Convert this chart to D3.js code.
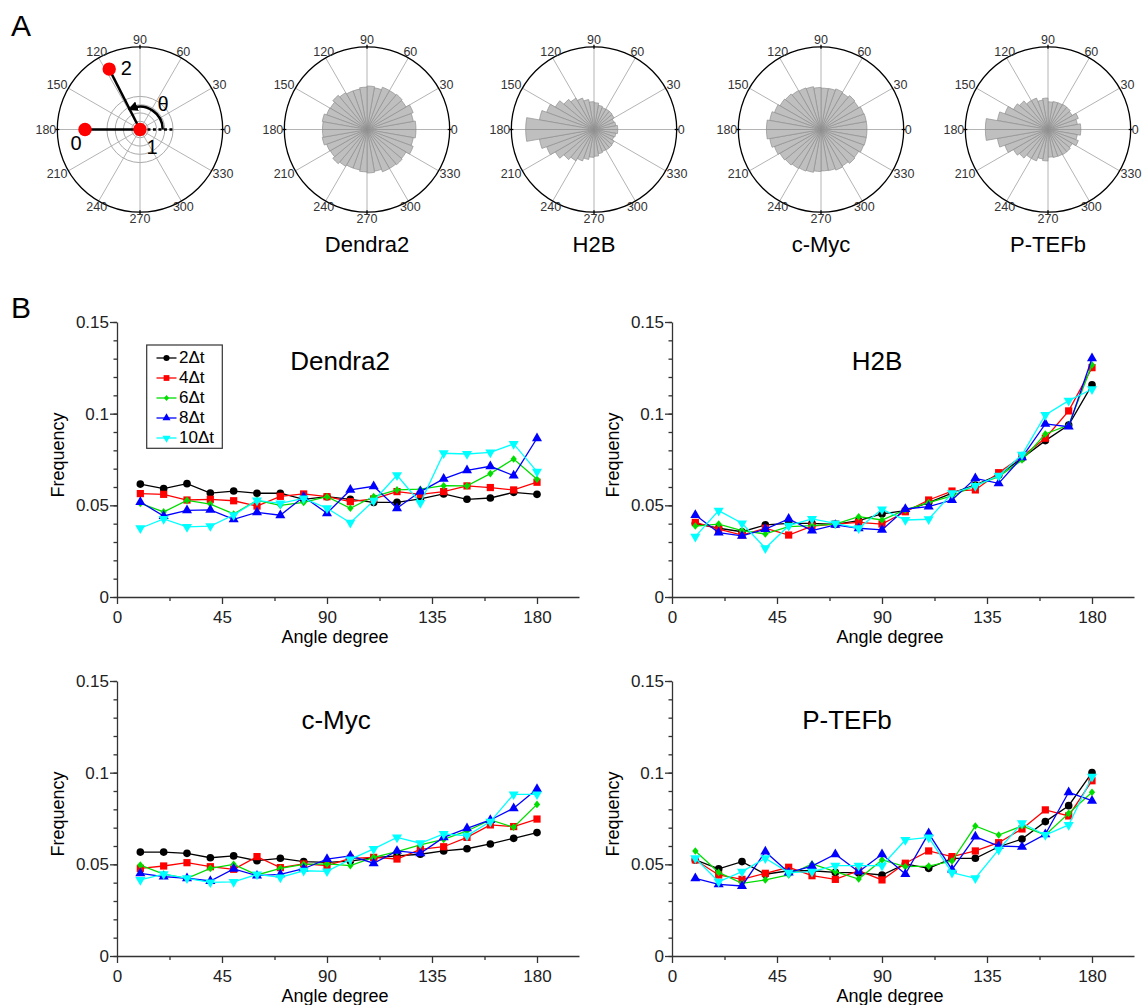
<!DOCTYPE html>
<html>
<head>
<meta charset="utf-8">
<script src="https://cdn.jsdelivr.net/npm/d3@7"></script>
<style>
  body { margin: 0; background: #fff; }
  text { font-family: "Liberation Sans", Arial, sans-serif; }
</style>
</head>
<body>
<div id="chart"></div>
<script>
// ---- data ----
const angles = [10, 20, 30, 40, 50, 60, 70, 80, 90, 100, 110, 120, 130, 140, 150, 160, 170, 180];
const seriesNames = ["2\u0394t", "4\u0394t", "6\u0394t", "8\u0394t", "10\u0394t"];
const proteins = ["Dendra2", "H2B", "c-Myc", "P-TEFb"];

const dendra2 = [
  [0.0616, 0.0591, 0.0618, 0.0567, 0.0578, 0.0566, 0.0566, 0.0533, 0.0547, 0.0533, 0.0516, 0.0516, 0.0535, 0.0562, 0.0533, 0.0540, 0.0571, 0.0560],
  [0.0564, 0.0560, 0.0529, 0.0533, 0.0525, 0.0496, 0.0549, 0.0562, 0.0547, 0.0520, 0.0535, 0.0575, 0.0560, 0.0575, 0.0606, 0.0597, 0.0584, 0.0626],
  [0.0511, 0.0464, 0.0527, 0.0507, 0.0453, 0.0527, 0.0500, 0.0516, 0.0547, 0.0484, 0.0548, 0.0584, 0.0588, 0.0607, 0.0606, 0.0673, 0.0753, 0.0642],
  [0.0518, 0.0442, 0.0473, 0.0475, 0.0424, 0.0462, 0.0446, 0.0547, 0.0457, 0.0584, 0.0604, 0.0484, 0.0575, 0.0644, 0.0691, 0.0713, 0.0662, 0.0866],
  [0.0375, 0.0426, 0.0382, 0.0387, 0.0447, 0.0527, 0.0511, 0.0538, 0.0484, 0.0405, 0.0525, 0.0664, 0.0513, 0.0784, 0.0780, 0.0789, 0.0835, 0.0684]
];
const h2b = [
  [0.0402, 0.0375, 0.0356, 0.0393, 0.0402, 0.0402, 0.0396, 0.0416, 0.0453, 0.0471, 0.0515, 0.0566, 0.0611, 0.0666, 0.0757, 0.0853, 0.0938, 0.1157],
  [0.0407, 0.0370, 0.0338, 0.0375, 0.0338, 0.0387, 0.0398, 0.0407, 0.0398, 0.0465, 0.0529, 0.0578, 0.0584, 0.0678, 0.0766, 0.0866, 0.1015, 0.1251],
  [0.0387, 0.0398, 0.0362, 0.0344, 0.0384, 0.0389, 0.0398, 0.0438, 0.0420, 0.0475, 0.0515, 0.0551, 0.0609, 0.0656, 0.0747, 0.0889, 0.0938, 0.1266],
  [0.0447, 0.0351, 0.0333, 0.0370, 0.0426, 0.0362, 0.0393, 0.0375, 0.0366, 0.0480, 0.0493, 0.0529, 0.0647, 0.0620, 0.0762, 0.0944, 0.0929, 0.1302],
  [0.0329, 0.0471, 0.0402, 0.0266, 0.0389, 0.0426, 0.0402, 0.0375, 0.0478, 0.0420, 0.0424, 0.0566, 0.0606, 0.0662, 0.0776, 0.0993, 0.1071, 0.1133]
];
const cmyc = [
  [0.0567, 0.0567, 0.0560, 0.0536, 0.0546, 0.0520, 0.0533, 0.0515, 0.0511, 0.0518, 0.0536, 0.0546, 0.0555, 0.0573, 0.0585, 0.0611, 0.0642, 0.0673],
  [0.0478, 0.0491, 0.0509, 0.0487, 0.0473, 0.0542, 0.0482, 0.0502, 0.0493, 0.0533, 0.0538, 0.0529, 0.0582, 0.0596, 0.0647, 0.0715, 0.0706, 0.0747],
  [0.0496, 0.0447, 0.0424, 0.0478, 0.0500, 0.0442, 0.0478, 0.0500, 0.0502, 0.0493, 0.0538, 0.0569, 0.0606, 0.0636, 0.0682, 0.0742, 0.0702, 0.0827],
  [0.0451, 0.0433, 0.0424, 0.0409, 0.0475, 0.0438, 0.0445, 0.0476, 0.0529, 0.0546, 0.0506, 0.0573, 0.0560, 0.0647, 0.0696, 0.0742, 0.0806, 0.0911],
  [0.0415, 0.0447, 0.0424, 0.0402, 0.0404, 0.0445, 0.0429, 0.0465, 0.0462, 0.0527, 0.0584, 0.0647, 0.0615, 0.0666, 0.0656, 0.0733, 0.0882, 0.0882]
];
const ptefb = [
  [0.0524, 0.0475, 0.0515, 0.0446, 0.0465, 0.0465, 0.0456, 0.0453, 0.0442, 0.0502, 0.0478, 0.0533, 0.0533, 0.0596, 0.0638, 0.0733, 0.0820, 0.1000],
  [0.0524, 0.0442, 0.0418, 0.0451, 0.0484, 0.0438, 0.0418, 0.0465, 0.0415, 0.0506, 0.0573, 0.0542, 0.0573, 0.0618, 0.0693, 0.0797, 0.0764, 0.0956],
  [0.0573, 0.0456, 0.0396, 0.0415, 0.0442, 0.0502, 0.0460, 0.0420, 0.0524, 0.0487, 0.0490, 0.0518, 0.0709, 0.0660, 0.0709, 0.0660, 0.0778, 0.0893],
  [0.0424, 0.0391, 0.0382, 0.0569, 0.0455, 0.0490, 0.0555, 0.0460, 0.0555, 0.0447, 0.0669, 0.0471, 0.0651, 0.0600, 0.0596, 0.0664, 0.0893, 0.0847],
  [0.0533, 0.0405, 0.0460, 0.0533, 0.0455, 0.0460, 0.0493, 0.0493, 0.0493, 0.0633, 0.0647, 0.0455, 0.0424, 0.0580, 0.0724, 0.0660, 0.0715, 0.0978]
];
const proteinData = [dendra2, h2b, cmyc, ptefb];

// radial maximum of each rose plot (panel A)
const roseMax = [0.104, 0.14, 0.102, 0.132];
const polarTicks = [0, 30, 60, 90, 120, 150, 180, 210, 240, 270, 300, 330];
const yTicks = [0, 0.05, 0.1, 0.15];
const xTicks = [0, 45, 90, 135, 180];

// schematic in the first polar plot: step positions (angle deg, radius as fraction)
const schemePoints = [
  { label: "0", angle: 180, r: 0.665 },
  { label: "1", angle: 0, r: 0 },
  { label: "2", angle: 117, r: 0.82 }
];

// ---- layout ----
const W = 1143, H = 1005;
const svg = d3.select("#chart").append("svg")
  .attr("width", W).attr("height", H)
  .style("background", "#fff");

const colors = ["#000000", "#ff0000", "#00dd00", "#0000ff", "#00ffff"];
const diamond = {
  draw(ctx, size) {
    const h = Math.sqrt(size) / 2;
    ctx.moveTo(0, -h * 1.15); ctx.lineTo(h * 0.95, 0);
    ctx.lineTo(0, h * 1.15); ctx.lineTo(-h * 0.95, 0); ctx.closePath();
  }
};
const markers = [
  { type: d3.symbolCircle, size: 46, rot: 0 },
  { type: d3.symbolSquare, size: 52, rot: 0 },
  { type: diamond, size: 44, rot: 0 },
  { type: d3.symbolTriangle, size: 44, rot: 0 },
  { type: d3.symbolTriangle, size: 44, rot: 180 }
];

// panel labels
svg.append("text").attr("x", 11).attr("y", 36).attr("font-size", 30).text("A");
svg.append("text").attr("x", 11).attr("y", 318).attr("font-size", 30).text("B");

// ---- panel A: polar plots ----
const R = 82.7;
const polarCx = [140, 367, 594, 821, 1048];
const polarCy = 129.5;

function drawPolar(cx, cy, values, rmax) {
  const g = svg.append("g").attr("transform", `translate(${cx},${cy})`);
  const rad = d3.scaleLinear().domain([0, rmax]).range([0, R]);

  if (values === null) {
    // inner reference rings of the schematic
    g.selectAll(".ring").data([0.1, 0.2, 0.3, 0.4]).enter().append("circle")
      .attr("r", d => d * R).attr("fill", "none")
      .attr("stroke", "#aaa").attr("stroke-width", 1);
  }

  // spokes
  g.selectAll(".spoke").data(polarTicks).enter().append("line")
    .attr("x1", 0).attr("y1", 0)
    .attr("x2", d => R * Math.cos(d * Math.PI / 180))
    .attr("y2", d => -R * Math.sin(d * Math.PI / 180))
    .attr("stroke", "#b4b4b4").attr("stroke-width", 1);

  if (values !== null) {
    // mirrored rose: bin [a-10, a] also drawn at [360-a, 370-a]
    const bins = [];
    angles.forEach((a, i) => {
      bins.push({ lo: a - 10, hi: a, v: values[i] });
      bins.push({ lo: 360 - a, hi: 370 - a, v: values[i] });
    });
    const arc = d3.arc().innerRadius(0);
    g.selectAll(".bin").data(bins).enter().append("path")
      .attr("d", d => arc({
        outerRadius: rad(d.v),
        startAngle: Math.PI / 2 - d.hi * Math.PI / 180,
        endAngle: Math.PI / 2 - d.lo * Math.PI / 180
      }))
      .attr("fill", "#bfbfbf").attr("stroke", "#8f8f8f").attr("stroke-width", 0.7);
  }

  // outer circle and small ticks
  g.append("circle").attr("r", R).attr("fill", "none")
    .attr("stroke", "#000").attr("stroke-width", 1.3);
  g.selectAll(".ptick").data([0, 90, 180, 270]).enter().append("line")
    .attr("x1", d => (R - 2) * Math.cos(d * Math.PI / 180))
    .attr("y1", d => -(R - 2) * Math.sin(d * Math.PI / 180))
    .attr("x2", d => (R + 2) * Math.cos(d * Math.PI / 180))
    .attr("y2", d => -(R + 2) * Math.sin(d * Math.PI / 180))
    .attr("stroke", "#000").attr("stroke-width", 1.3);

  // angle labels
  g.selectAll(".plabel").data(polarTicks).enter().append("text")
    .attr("x", d => {
      const c = Math.cos(d * Math.PI / 180);
      return (Math.abs(c) < 0.6 ? R + 4 : R + 1) * c;
    })
    .attr("y", d => -(R + 7) * Math.sin(d * Math.PI / 180))
    .attr("text-anchor", d => {
      const c = Math.cos(d * Math.PI / 180);
      return Math.abs(c) < 0.6 ? "middle" : (c > 0 ? "start" : "end");
    })
    .attr("dominant-baseline", "central")
    .attr("font-size", 12.5).attr("fill", "#333")
    .text(d => d);
  return { g, rad };
}

// schematic polar
const scheme = drawPolar(polarCx[0], polarCy, null, 1);
{
  const g = scheme.g;
  const pos = p => [p.r * R * Math.cos(p.angle * Math.PI / 180), -p.r * R * Math.sin(p.angle * Math.PI / 180)];
  const [p0, p1, p2] = schemePoints.map(pos);

  svg.append("defs").append("marker")
    .attr("id", "arrow").attr("viewBox", "0 0 10 10")
    .attr("refX", 6).attr("refY", 5)
    .attr("markerWidth", 4).attr("markerHeight", 4)
    .attr("orient", "auto")
    .append("path").attr("d", "M0,0 L10,5 L0,10 Z").attr("fill", "#000");

  // dotted reference direction
  g.append("line")
    .attr("x1", 0.09 * R).attr("y1", 0).attr("x2", 0.42 * R).attr("y2", 0)
    .attr("stroke", "#000").attr("stroke-width", 2.5).attr("stroke-dasharray", "3,2.5");

  // steps
  g.append("line").attr("x1", p0[0]).attr("y1", p0[1]).attr("x2", p1[0]).attr("y2", p1[1])
    .attr("stroke", "#000").attr("stroke-width", 2.5);
  g.append("line").attr("x1", p1[0]).attr("y1", p1[1]).attr("x2", p2[0]).attr("y2", p2[1])
    .attr("stroke", "#000").attr("stroke-width", 2.5);

  // theta arc
  const ar = 0.275 * R;
  const arcEnd = 112 * Math.PI / 180;
  g.append("path")
    .attr("d", `M${ar},0 A${ar},${ar} 0 0 0 ${ar * Math.cos(arcEnd)},${-ar * Math.sin(arcEnd)}`)
    .attr("fill", "none").attr("stroke", "#000").attr("stroke-width", 2.5)
    .attr("marker-end", "url(#arrow)");

  g.selectAll(".step").data([p0, p1, p2]).enter().append("circle")
    .attr("cx", d => d[0]).attr("cy", d => d[1]).attr("r", 6.7).attr("fill", "#ff0000");

  const serif = "'Liberation Serif', 'DejaVu Serif', serif";
  g.append("text").attr("x", p0[0] - 9).attr("y", p0[1] + 20).attr("font-size", 20)
    .attr("font-family", serif).attr("text-anchor", "middle").text(schemePoints[0].label);
  g.append("text").attr("x", p1[0] + 12).attr("y", p1[1] + 24).attr("font-size", 20)
    .attr("font-family", serif).attr("text-anchor", "middle").text(schemePoints[1].label);
  g.append("text").attr("x", p2[0] + 17).attr("y", p2[1] + 6).attr("font-size", 20)
    .attr("font-family", serif).attr("text-anchor", "middle").text(schemePoints[2].label);
  g.append("text").attr("x", 23).attr("y", -19).attr("font-size", 20)
    .attr("font-family", serif).attr("text-anchor", "middle").text("\u03b8");
}

// rose plots, drawn from the 2Δt series
proteins.forEach((name, k) => {
  drawPolar(polarCx[k + 1], polarCy, proteinData[k][0], roseMax[k]);
  svg.append("text")
    .attr("x", polarCx[k + 1]).attr("y", 252)
    .attr("text-anchor", "middle").attr("font-size", 22)
    .text(name);
});

// ---- panel B: line charts ----
const panelX = [117, 672, 117, 672];
const panelY = [597, 597, 956, 956];
const titlePos = [95.6, 87.9, 93.9, 75];   // title centre, in degrees
const plotW = 462, plotH = 275;

proteins.forEach((name, k) => {
  const x0 = panelX[k], y0 = panelY[k];
  const x = d3.scaleLinear().domain([0, 198]).range([x0, x0 + plotW]);
  const y = d3.scaleLinear().domain([0, 0.15]).range([y0, y0 - plotH]);
  const g = svg.append("g");

  // minor ticks
  g.append("g").attr("transform", `translate(${x0},0)`)
    .call(d3.axisLeft(y).tickValues(d3.range(0, 0.1501, 0.01)).tickSize(3.5).tickFormat("").tickSizeOuter(0))
    .call(a => a.select(".domain").remove());
  g.append("g").attr("transform", `translate(0,${y0})`)
    .call(d3.axisBottom(x).tickValues([22.5, 67.5, 112.5, 157.5]).tickSize(4).tickFormat("").tickSizeOuter(0))
    .call(a => a.select(".domain").remove());

  // major axes
  const yAxis = g.append("g").attr("transform", `translate(${x0},0)`)
    .call(d3.axisLeft(y).tickValues(yTicks).tickSize(7).tickPadding(1).tickSizeOuter(0)
      .tickFormat(d => d === 0 ? "0" : String(d)));
  const xAxis = g.append("g").attr("transform", `translate(0,${y0})`)
    .call(d3.axisBottom(x).tickValues(xTicks).tickSize(7).tickPadding(7).tickSizeOuter(0));
  [yAxis, xAxis].forEach(a => {
    a.selectAll("text").attr("font-size", 17).attr("fill", "#222")
      .attr("font-family", "'Liberation Sans', Arial, sans-serif");
  });
  g.selectAll("path.domain, line").attr("stroke", "#333").attr("stroke-width", 1.3);

  // axis titles
  g.append("text")
    .attr("transform", `translate(${x0 - 53},${y0 - 142}) rotate(-90)`)
    .attr("text-anchor", "middle").attr("font-size", 18)
    .text("Frequency");
  g.append("text")
    .attr("x", x0 + 218).attr("y", y0 + 46)
    .attr("text-anchor", "middle").attr("font-size", 18)
    .text("Angle degree");

  // panel title
  g.append("text")
    .attr("x", x(titlePos[k])).attr("y", y(0.124))
    .attr("text-anchor", "middle").attr("font-size", 26)
    .text(name);

  // series
  const line = d3.line().x((d, i) => x(angles[i])).y(d => y(d));
  proteinData[k].forEach((vals, s) => {
    g.append("path").datum(vals)
      .attr("fill", "none").attr("stroke", colors[s]).attr("stroke-width", 1.3)
      .attr("d", line);
    g.selectAll(".m" + s).data(vals).enter().append("path")
      .attr("transform", (d, i) => `translate(${x(angles[i])},${y(d)}) rotate(${markers[s].rot})`)
      .attr("d", d3.symbol().type(markers[s].type).size(markers[s].size))
      .attr("fill", colors[s]);
  });

  // legend in the first panel
  if (k === 0) {
    const lg = svg.append("g");
    lg.append("rect")
      .attr("x", 146.7).attr("y", 345).attr("width", 75.6).attr("height", 103.3)
      .attr("fill", "#fff").attr("stroke", "#333").attr("stroke-width", 1.2);
    const items = lg.selectAll(".item").data(seriesNames).enter().append("g")
      .attr("transform", (d, i) => `translate(0,${358 + i * 20})`);
    items.append("line")
      .attr("x1", 156.5).attr("x2", 176.5).attr("y1", 0).attr("y2", 0)
      .attr("stroke", (d, i) => colors[i]).attr("stroke-width", 1.3);
    items.append("path")
      .attr("transform", (d, i) => `translate(166.5,0) rotate(${markers[i].rot}) scale(0.8)`)
      .attr("d", (d, i) => d3.symbol().type(markers[i].type).size(markers[i].size)())
      .attr("fill", (d, i) => colors[i]);
    items.append("text")
      .attr("x", 179).attr("y", 5)
      .attr("font-size", 17)
      .text(d => d);
  }
});
</script>
</body>
</html>
